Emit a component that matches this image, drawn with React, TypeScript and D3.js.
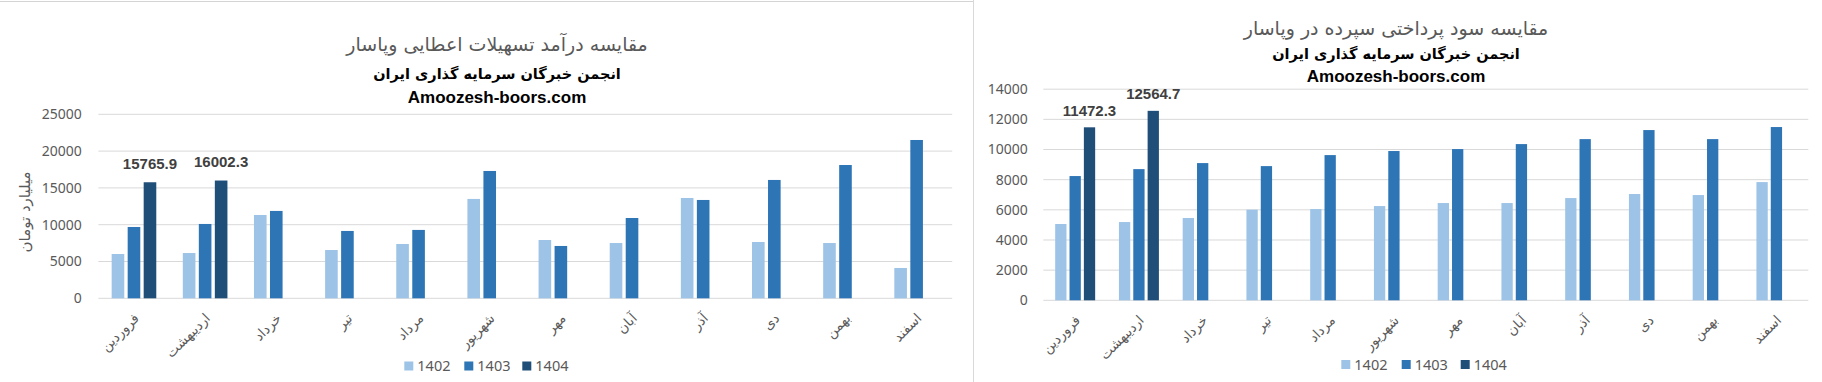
import React from "react";
import * as d3 from "d3";

const months = ["فروردین", "اردیبهشت", "خرداد", "تیر", "مرداد", "شهریور", "مهر", "آبان", "آذر", "دی", "بهمن", "اسفند"];
const seriesNames = ["1402", "1403", "1404"];
const seriesColors = ["#9DC3E6", "#2E75B6", "#1F4E79"];

// Chart 1: income from loans (billion toman)
const loans1402 = [6020, 6150, 11320, 6560, 7380, 13500, 7920, 7510, 13630, 7650, 7510, 4120];
const loans1403 = [9690, 10100, 11870, 9150, 9290, 17300, 7110, 10910, 13360, 16080, 18110, 21510];
const loans1404 = [15765.9, 16002.3, null, null, null, null, null, null, null, null, null, null];
const loansTicks = [0, 5000, 10000, 15000, 20000, 25000];

// Chart 2: interest paid on deposits
const dep1402 = [5060, 5190, 5460, 6010, 6050, 6250, 6450, 6450, 6780, 7050, 6980, 7840];
const dep1403 = [8240, 8700, 9100, 8900, 9630, 9900, 10030, 10360, 10690, 11290, 10690, 11490];
const dep1404 = [11472.3, 12564.7, null, null, null, null, null, null, null, null, null, null];
const depTicks = [0, 2000, 4000, 6000, 8000, 10000, 12000, 14000];

const numFont = "'Noto Sans', 'DejaVu Sans', sans-serif";
const arFont = "'DejaVu Sans', sans-serif";
const gray = "#595959";

type ChartProps = {
  x0: number; x1: number; yTop: number; yBottom: number; maxV: number;
  series: (number | null)[][]; ticks: number[]; tickRight: number;
  titleX: number; titleY: number; subY: number; siteY: number;
  title: string; legendX: number[]; legendY: number; yTitle?: { x: number; y: number; text: string };
  labelOffset: number;
};

function BarChart(p: ChartProps) {
  const xBand = d3.scaleBand<string>().domain(months).range([p.x0, p.x1]).paddingInner(0).paddingOuter(0);
  const slot = xBand.bandwidth();
  const groupW = slot * 0.627;
  const inner = d3.scaleBand<string>().domain(seriesNames).range([0, groupW]).paddingInner(0.2125).paddingOuter(0);
  const y = d3.scaleLinear().domain([0, p.maxV]).range([p.yBottom, p.yTop]);
  return (
    <g>
      {p.ticks.map((t) => (
        <g key={t}>
          <line x1={p.x0} x2={p.x1} y1={y(t)} y2={y(t)} stroke="#D9D9D9" strokeWidth={1} />
          <text x={p.tickRight} y={y(t)} dy="0.35em" textAnchor="end" fontFamily={numFont} fontSize={14} fill={gray}>{t}</text>
        </g>
      ))}
      {p.series.map((vals, si) =>
        vals.map((v, i) => {
          if (v === null) return null;
          const cx = (xBand(months[i]) as number) + slot / 2;
          const bx = cx - groupW / 2 + (inner(seriesNames[si]) as number);
          return (
            <rect key={si + "-" + i} x={bx} y={y(v)} width={inner.bandwidth()} height={p.yBottom - y(v)} fill={seriesColors[si]} />
          );
        })
      )}
      {p.series[2].map((v, i) => {
        if (v === null) return null;
        const cx = (xBand(months[i]) as number) + slot / 2;
        const bx = cx - groupW / 2 + (inner(seriesNames[2]) as number) + inner.bandwidth() / 2;
        return (
          <text key={"l" + i} x={bx} y={y(v) - p.labelOffset} dy="0.35em" textAnchor="middle" fontFamily="'Liberation Sans', Arial, sans-serif" fontWeight="bold" fontSize={15} fill="#404040">{v}</text>
        );
      })}
      {months.map((m) => {
        const cx = (xBand(m) as number) + slot / 2;
        const ax = cx + 3;
        const ay = p.yBottom + 18;
        return (
          <text key={m} x={ax} y={ay} textAnchor="end" dominantBaseline="middle" transform={`rotate(-45 ${ax} ${ay})`} fontFamily={arFont} fontSize={13.5} fill={gray}>{m}</text>
        );
      })}
      {seriesNames.map((s, i) => (
        <g key={s}>
          <rect x={p.legendX[i]} y={p.legendY - 4.5} width={9} height={9} fill={seriesColors[i]} />
          <text x={p.legendX[i] + 13} y={p.legendY} dy="0.35em" fontFamily={numFont} fontSize={14.5} fill={gray}>{s}</text>
        </g>
      ))}
      <text x={p.titleX} y={p.titleY} dy="0.35em" textAnchor="middle" fontFamily={arFont} fontSize={19} fill={gray}>{p.title}</text>
      <text x={p.titleX} y={p.subY} dy="0.35em" textAnchor="middle" fontFamily={arFont} fontWeight="bold" fontSize={14.5} fill="#000">انجمن خبرگان سرمایه گذاری ایران</text>
      <text x={p.titleX} y={p.siteY} dy="0.35em" textAnchor="middle" fontFamily="'Liberation Sans', Arial, sans-serif" fontWeight="bold" fontSize={17} fill="#000">Amoozesh-boors.com</text>
      {p.yTitle && (
        <text x={p.yTitle.x} y={p.yTitle.y} dy="0.35em" textAnchor="middle" transform={`rotate(-90 ${p.yTitle.x} ${p.yTitle.y})`} fontFamily={arFont} fontSize={15} fill={gray}>{p.yTitle.text}</text>
      )}
    </g>
  );
}

export default function App() {
  return (
    <div style={{ position: "absolute", left: 0, top: 0 }}>
      <svg width={1822} height={382} style={{ display: "block", background: "#fff" }}>
        <rect x={0} y={0} width={1822} height={382} fill="#fff" />
        <line x1={0} x2={973} y1={1.5} y2={1.5} stroke="#D4D4D4" strokeWidth={1} />
        <line x1={973.5} x2={973.5} y1={0} y2={382} stroke="#D9D9D9" strokeWidth={1} />
        <BarChart
          x0={98.4} x1={952.2} yTop={114.3} yBottom={298.3} maxV={25000}
          series={[loans1402, loans1403, loans1404]} ticks={loansTicks} tickRight={81.7}
          titleX={497} titleY={44} subY={74} siteY={97}
          title="مقایسه درآمد تسهیلات اعطایی وپاسار"
          legendX={[404.3, 464.3, 522.3]} legendY={366}
          yTitle={{ x: 25, y: 212, text: "میلیارد تومان" }}
          labelOffset={18.5}
        />
        <BarChart
          x0={1043.3} x1={1808.3} yTop={89.2} yBottom={300.3} maxV={14000}
          series={[dep1402, dep1403, dep1404]} ticks={depTicks} tickRight={1027.7}
          titleX={1396} titleY={28} subY={54} siteY={76}
          title="مقایسه سود پرداختی سپرده در وپاسار"
          legendX={[1341.3, 1401.7, 1460.7]} legendY={364.5}
          labelOffset={17}
        />
      </svg>
    </div>
  );
}
